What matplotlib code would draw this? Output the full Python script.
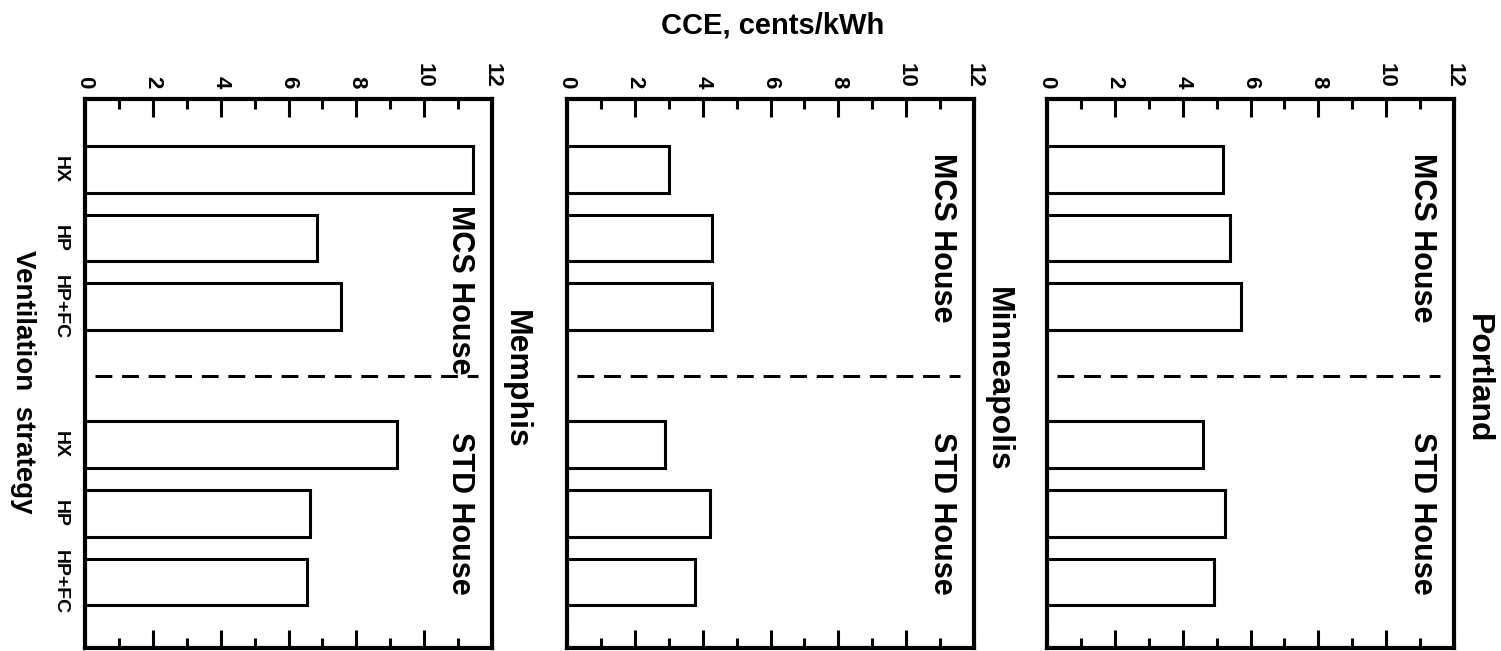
import matplotlib
matplotlib.use('Agg')
import matplotlib.pyplot as plt
from matplotlib.ticker import MultipleLocator

plt.rcParams['font.family'] = ['Liberation Sans', 'DejaVu Sans']
plt.rcParams['font.weight'] = 'bold'

# CCE values, cents/kWh
strategies = ['HX', 'HP', 'HP+FC']
cities = ['Memphis', 'Minneapolis', 'Portland']
mcs_house = {
    'Memphis': [11.45, 6.85, 7.55],
    'Minneapolis': [3.0, 4.28, 4.28],
    'Portland': [5.18, 5.4, 5.72],
}
std_house = {
    'Memphis': [9.2, 6.64, 6.56],
    'Minneapolis': [2.88, 4.22, 3.78],
    'Portland': [4.6, 5.25, 4.93],
}
cce_ticks = [0, 2, 4, 6, 8, 10, 12]

# bar slots: MCS group 0..2, divider at 3, STD group 4..6
mcs_pos = [0, 1, 2]
std_pos = [4, 5, 6]
divider = 3

fig = plt.figure(figsize=(15.01, 6.51), dpi=100)

lefts = [85 / 1501, 567 / 1501, 1047 / 1501]
w = 407 / 1501
bottom = 3 / 651
h = 549 / 651

for i, city in enumerate(cities):
    ax = fig.add_axes([lefts[i], bottom, w, h])
    ax.barh(mcs_pos, mcs_house[city], height=0.68, color='white',
            edgecolor='black', linewidth=2.2)
    ax.barh(std_pos, std_house[city], height=0.68, color='white',
            edgecolor='black', linewidth=2.2)
    ax.plot([0.3, 11.6], [divider, divider], color='black', lw=2.2,
            linestyle=(0, (5.5, 3.2)))

    ax.set_xlim(0, 12)
    ax.set_ylim(6.96, -1.02)
    for s in ax.spines.values():
        s.set_linewidth(3)

    ax.set_xticks(cce_ticks)
    ax.xaxis.set_minor_locator(MultipleLocator(1))
    ax.tick_params(axis='x', which='both', direction='in', top=True,
                   bottom=True, labeltop=True, labelbottom=False)
    ax.tick_params(axis='x', which='major', length=13, width=2.2, pad=8,
                   labelsize=16, labelrotation=270)
    ax.tick_params(axis='x', which='minor', length=7, width=2.2)

    ax.set_yticks(mcs_pos + std_pos)
    if i == 0:
        ax.set_yticklabels(strategies + strategies, rotation=270,
                           fontsize=14, va='center')
    else:
        ax.set_yticklabels([])
    ax.tick_params(axis='y', length=0, pad=12)

    # house labels inside the panel, city name to the right
    mcs_y = 1.75 if city == 'Memphis' else 1.0
    ax.text(11.05, mcs_y, 'MCS House', rotation=270, ha='center',
            va='center', fontsize=22)
    ax.text(11.05, 5.0, 'STD House', rotation=270, ha='center',
            va='center', fontsize=22)
    ax.text(1.058, 0.49, city, transform=ax.transAxes, rotation=270,
            ha='center', va='center', fontsize=23)

fig.text(773 / 1501, 1 - 26 / 651, 'CCE, cents/kWh', ha='center',
         va='center', fontsize=21)
fig.text(23 / 1501, 1 - 382 / 651, 'Ventilation  strategy', rotation=270,
         ha='center', va='center', fontsize=20)

fig.savefig('out.png', dpi=100)
